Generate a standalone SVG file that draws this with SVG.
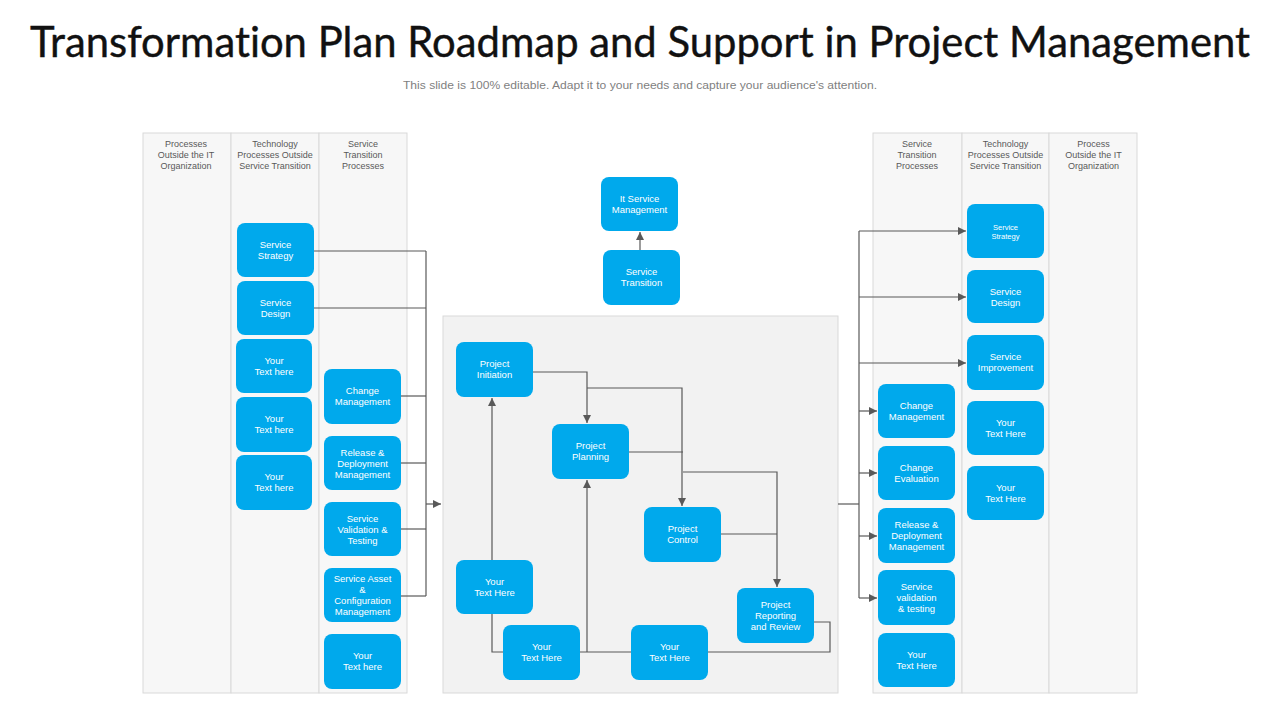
<svg xmlns="http://www.w3.org/2000/svg" width="1280" height="720" viewBox="0 0 1280 720">
<style>
.bg{fill:#ffffff}
.col{fill:#f7f7f7;stroke:#d9d9d9;stroke-width:1}
.panel{fill:#f2f2f2;stroke:#d9d9d9;stroke-width:1}
.hd{font-family:"Liberation Sans",Arial,sans-serif;font-size:9px;fill:#595959;text-anchor:middle}
.node rect{fill:#00a9ec;stroke:none}
.node text{font-family:"Liberation Sans",Arial,sans-serif;font-size:9.5px;fill:#ffffff;text-anchor:middle}
.conn path{fill:none;stroke:#595959;stroke-width:1.2}
.title{font-family:"Lato","Liberation Sans",sans-serif;font-size:42px;fill:#111111;text-anchor:middle;font-variant-ligatures:none;stroke:#111111;stroke-width:0.4}
.sub{font-family:"Liberation Sans",Arial,sans-serif;font-size:11.5px;fill:#7f7f7f;text-anchor:middle}
</style>
<defs>
<marker id="arr" markerUnits="userSpaceOnUse" markerWidth="10" markerHeight="10" refX="8" refY="4" orient="auto">
<path d="M0,0 L8,4 L0,8 Z" fill="#595959"/>
</marker>
</defs>
<rect class="bg" x="0" y="0" width="1280" height="720"/>
<text class="title" x="640" y="57" textLength="1220" lengthAdjust="spacingAndGlyphs">Transformation Plan Roadmap and Support in Project Management</text>
<text class="sub" x="640" y="89" textLength="474" lengthAdjust="spacingAndGlyphs">This slide is 100% editable. Adapt it to your needs and capture your audience's attention.</text>

<g id="left-lanes">
<rect class="col" x="143" y="133" width="88" height="560"/>
<rect class="col" x="231" y="133" width="88" height="560"/>
<rect class="col" x="319" y="133" width="88" height="560"/>
<text class="hd" x="186" y="147">Processes</text>
<text class="hd" x="186" y="158">Outside the IT</text>
<text class="hd" x="186" y="169">Organization</text>
<text class="hd" x="275" y="147">Technology</text>
<text class="hd" x="275" y="158">Processes Outside</text>
<text class="hd" x="275" y="169">Service Transition</text>
<text class="hd" x="363" y="147">Service</text>
<text class="hd" x="363" y="158">Transition</text>
<text class="hd" x="363" y="169">Processes</text>
</g>
<g id="right-lanes">
<rect class="col" x="873" y="133" width="89" height="560"/>
<rect class="col" x="962" y="133" width="87" height="560"/>
<rect class="col" x="1049" y="133" width="88" height="560"/>
<text class="hd" x="917" y="147">Service</text>
<text class="hd" x="917" y="158">Transition</text>
<text class="hd" x="917" y="169">Processes</text>
<text class="hd" x="1005.5" y="147">Technology</text>
<text class="hd" x="1005.5" y="158">Processes Outside</text>
<text class="hd" x="1005.5" y="169">Service Transition</text>
<text class="hd" x="1093.5" y="147">Process</text>
<text class="hd" x="1093.5" y="158">Outside the IT</text>
<text class="hd" x="1093.5" y="169">Organization</text>
</g>
<g id="center-panel">
<rect class="panel" x="443" y="316" width="395" height="377"/>
</g>

<g id="connectors" class="conn">
<path d="M314,251 H426"/>
<path d="M314,308 H426"/>
<path d="M401,396 H426"/>
<path d="M401,463 H426"/>
<path d="M401,529 H426"/>
<path d="M401,596 H426"/>
<path d="M426,251 V596"/>
<path d="M426,504 H441" marker-end="url(#arr)"/>
<path d="M640,250 V232" marker-end="url(#arr)"/>
<path d="M533,372 H587 V423" marker-end="url(#arr)"/>
<path d="M587,388 H682 V506" marker-end="url(#arr)"/>
<path d="M629,452 H683"/>
<path d="M683,472 H777 V587" marker-end="url(#arr)"/>
<path d="M721,534 H777"/>
<path d="M814,622 H830 V652 H492 V398" marker-end="url(#arr)"/>
<path d="M587,652 V480" marker-end="url(#arr)"/>
<path d="M838,504 H859"/>
<path d="M859,231 V598"/>
<path d="M859,231 H966" marker-end="url(#arr)"/>
<path d="M859,297 H966" marker-end="url(#arr)"/>
<path d="M859,363 H966" marker-end="url(#arr)"/>
<path d="M859,411 H877" marker-end="url(#arr)"/>
<path d="M859,473 H877" marker-end="url(#arr)"/>
<path d="M859,536 H877" marker-end="url(#arr)"/>
<path d="M859,598 H877" marker-end="url(#arr)"/>
</g>

<g id="l-service-strategy" class="node"><rect x="237" y="223" width="77" height="54" rx="8"/><text x="275.5" y="248">Service</text><text x="275.5" y="259">Strategy</text></g>
<g id="l-service-design" class="node"><rect x="237" y="281" width="77" height="54" rx="8"/><text x="275.5" y="306">Service</text><text x="275.5" y="317">Design</text></g>
<g id="l-your-text-1" class="node"><rect x="236" y="339" width="76" height="54" rx="8"/><text x="274" y="364">Your</text><text x="274" y="375">Text here</text></g>
<g id="l-your-text-2" class="node"><rect x="236" y="397" width="76" height="55" rx="8"/><text x="274" y="422">Your</text><text x="274" y="433">Text here</text></g>
<g id="l-your-text-3" class="node"><rect x="236" y="455" width="76" height="55" rx="8"/><text x="274" y="480">Your</text><text x="274" y="491">Text here</text></g>
<g id="l-change-management" class="node"><rect x="324" y="369" width="77" height="55" rx="8"/><text x="362.5" y="394">Change</text><text x="362.5" y="405">Management</text></g>
<g id="l-release" class="node"><rect x="324" y="436" width="77" height="54" rx="8"/><text x="362.5" y="455.5">Release &amp;</text><text x="362.5" y="466.5">Deployment</text><text x="362.5" y="477.5">Management</text></g>
<g id="l-validation" class="node"><rect x="324" y="502" width="77" height="54" rx="8"/><text x="362.5" y="521.5">Service</text><text x="362.5" y="532.5">Validation &amp;</text><text x="362.5" y="543.5">Testing</text></g>
<g id="l-asset" class="node"><rect x="324" y="568" width="77" height="54" rx="8"/><text x="362.5" y="582">Service Asset</text><text x="362.5" y="593">&amp;</text><text x="362.5" y="604">Configuration</text><text x="362.5" y="615">Management</text></g>
<g id="l-your-text-4" class="node"><rect x="324" y="634" width="77" height="55" rx="8"/><text x="362.5" y="659">Your</text><text x="362.5" y="670">Text here</text></g>

<g id="c-itsm" class="node"><rect x="601" y="177" width="77" height="54" rx="8"/><text x="639.5" y="202">It Service</text><text x="639.5" y="213">Management</text></g>
<g id="c-service-transition" class="node"><rect x="603" y="250" width="77" height="55" rx="8"/><text x="641.5" y="275">Service</text><text x="641.5" y="286">Transition</text></g>
<g id="c-initiation" class="node"><rect x="456" y="342" width="77" height="55" rx="8"/><text x="494.5" y="367">Project</text><text x="494.5" y="378">Initiation</text></g>
<g id="c-planning" class="node"><rect x="552" y="424" width="77" height="55" rx="8"/><text x="590.5" y="449">Project</text><text x="590.5" y="460">Planning</text></g>
<g id="c-control" class="node"><rect x="644" y="507" width="77" height="55" rx="8"/><text x="682.5" y="532">Project</text><text x="682.5" y="543">Control</text></g>
<g id="c-reporting" class="node"><rect x="737" y="588" width="77" height="55" rx="8"/><text x="775.5" y="607.5">Project</text><text x="775.5" y="618.5">Reporting</text><text x="775.5" y="629.5">and Review</text></g>
<g id="c-your-text-1" class="node"><rect x="456" y="560" width="77" height="54" rx="8"/><text x="494.5" y="585">Your</text><text x="494.5" y="596">Text Here</text></g>
<g id="c-your-text-2" class="node"><rect x="503" y="625" width="77" height="55" rx="8"/><text x="541.5" y="650">Your</text><text x="541.5" y="661">Text Here</text></g>
<g id="c-your-text-3" class="node"><rect x="631" y="625" width="77" height="55" rx="8"/><text x="669.5" y="650">Your</text><text x="669.5" y="661">Text Here</text></g>

<g id="r-service-strategy" class="node"><rect x="967" y="204" width="77" height="54" rx="8"/><text x="1005.5" y="229.5" style="font-size:7.5px">Service</text><text x="1005.5" y="238.5" style="font-size:7.5px">Strategy</text></g>
<g id="r-service-design" class="node"><rect x="967" y="270" width="77" height="53" rx="8"/><text x="1005.5" y="295">Service</text><text x="1005.5" y="306">Design</text></g>
<g id="r-service-improvement" class="node"><rect x="967" y="335" width="77" height="55" rx="8"/><text x="1005.5" y="360">Service</text><text x="1005.5" y="371">Improvement</text></g>
<g id="r-your-text-1" class="node"><rect x="967" y="401" width="77" height="54" rx="8"/><text x="1005.5" y="426">Your</text><text x="1005.5" y="437">Text Here</text></g>
<g id="r-your-text-2" class="node"><rect x="967" y="466" width="77" height="54" rx="8"/><text x="1005.5" y="491">Your</text><text x="1005.5" y="502">Text Here</text></g>
<g id="r-change-management" class="node"><rect x="878" y="384" width="77" height="54" rx="8"/><text x="916.5" y="409">Change</text><text x="916.5" y="420">Management</text></g>
<g id="r-change-evaluation" class="node"><rect x="878" y="446" width="77" height="54" rx="8"/><text x="916.5" y="471">Change</text><text x="916.5" y="482">Evaluation</text></g>
<g id="r-release" class="node"><rect x="878" y="508" width="77" height="55" rx="8"/><text x="916.5" y="527.5">Release &amp;</text><text x="916.5" y="538.5">Deployment</text><text x="916.5" y="549.5">Management</text></g>
<g id="r-validation" class="node"><rect x="878" y="570" width="77" height="55" rx="8"/><text x="916.5" y="589.5">Service</text><text x="916.5" y="600.5">validation</text><text x="916.5" y="611.5">&amp; testing</text></g>
<g id="r-your-text-3" class="node"><rect x="878" y="633" width="77" height="54" rx="8"/><text x="916.5" y="658">Your</text><text x="916.5" y="669">Text Here</text></g>
</svg>
